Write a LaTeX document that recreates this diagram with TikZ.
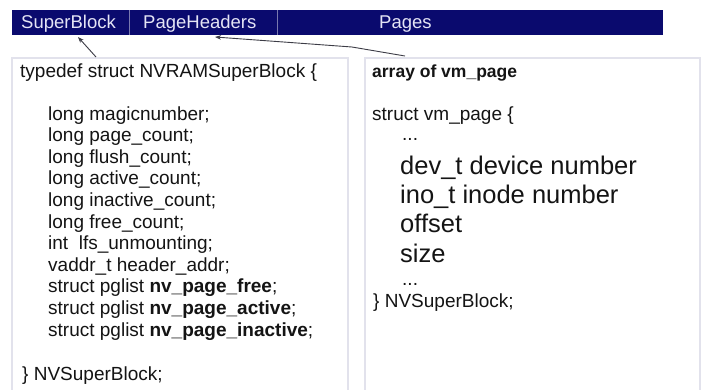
\documentclass[tikz,border=0pt]{standalone}
\usepackage{fontspec}
\setmainfont{Liberation Sans}
\usetikzlibrary{calc,arrows.meta}
\definecolor{barnavy}{RGB}{10,10,110}
\definecolor{bartxt}{RGB}{228,228,245}
\definecolor{barsep}{RGB}{120,120,175}
\definecolor{boxedge}{RGB}{226,226,236}
\definecolor{ink}{RGB}{20,20,20}
\definecolor{conncol}{RGB}{60,60,70}
\tikzset{
  cell/.style={fill=barnavy, inner sep=0pt, outer sep=0pt, anchor=north west, minimum height=25bp},
  bartext/.style={text=bartxt, inner sep=0pt, anchor=base west, font=\fontsize{18.5bp}{22bp}\selectfont},
  panel/.style={draw=boxedge, line width=1.2bp, fill=white, inner sep=0pt, outer sep=0pt, anchor=north west},
  code/.style={text=ink, inner sep=0pt, anchor=base west, font=\fontsize{19bp}{22bp}\selectfont},
  bigcode/.style={text=ink, inner sep=0pt, anchor=base west, font=\fontsize{25.5bp}{30bp}\selectfont},
  conn/.style={draw=conncol, line width=0.9bp, -{Stealth[length=6bp,width=4.5bp]}},
}
\begin{document}
\begin{tikzpicture}[x=1bp,y=-1bp]
\useasboundingbox[fill=white] (0,0) rectangle (705,389);

% header bar with its three cells
\node[cell, minimum width=117bp] (sb) at (12,10) {};
\node[cell, minimum width=148bp] (ph) at (129,10) {};
\node[cell, minimum width=386bp] (pg) at (277,10) {};
\draw[barsep, line width=0.8bp] (sb.north east) -- (sb.south east);
\draw[barsep, line width=0.8bp] (ph.north east) -- (ph.south east);
\node[bartext] (sbt) at (21,28) {SuperBlock};
\node[bartext] (pht) at (143,28) {PageHeaders};
\node[bartext] (pgt) at (379,28) {Pages};

% the two panels
\node[panel, minimum width=336bp, minimum height=334bp] (lbox) at (12,58) {};
\node[panel, minimum width=335bp, minimum height=334bp] (rbox) at (365,58) {};

% super block structure
\node[code] (l0) at (20,77) {typedef struct NVRAMSuperBlock \{};
\node[code] (l1) at (48,120) {long magicnumber;};
\node[code] (l2) at (48,141.6) {long page\_count;};
\node[code] (l3) at (48,163.2) {long flush\_count;};
\node[code] (l4) at (48,184.8) {long active\_count;};
\node[code] (l5) at (48,206.4) {long inactive\_count;};
\node[code] (l6) at (48,228) {long free\_count;};
\node[code] (l7) at (48,249.6) {int\ \ lfs\_unmounting;};
\node[code] (l8) at (48,271.2) {vaddr\_t header\_addr;};
\node[code] (l9) at (48,292.8) {struct pglist \textbf{nv\_page\_free};};
\node[code] (l10) at (48,314.4) {struct pglist \textbf{nv\_page\_active};};
\node[code] (l11) at (48,336) {struct pglist \textbf{nv\_page\_inactive};};
\node[code] (l12) at (22,380) {\} NVSuperBlock;};

% page header structure
\node[code, font=\fontsize{17.5bp}{21bp}\selectfont\bfseries] (r0) at (372,77) {array of vm\_page};
\node[code] (r1) at (372,120) {struct vm\_page \{};
\node[code] (r2) at (402,140) {...};
\node[bigcode] (r3) at (400,174) {dev\_t device number};
\node[bigcode] (r4) at (400,203) {ino\_t inode number};
\node[bigcode] (r5) at (400,232) {offset};
\node[bigcode] (r6) at (400,262) {size};
\node[code] (r7) at (402,285) {...};
\node[code] (r8) at (373,307) {\} NVSuperBlock;};

% pointers from the panels up to the bar cells
\draw[conn] ($(lbox.north west)+(84,-1)$) -- ($(sb.south west)+(66,2)$);
\coordinate (bend) at (352,47);
\draw[conn] ($(rbox.north west)+(40,-2)$) -- (bend) -- ($(ph.south west)+(86,2)$);
\end{tikzpicture}
\end{document}
